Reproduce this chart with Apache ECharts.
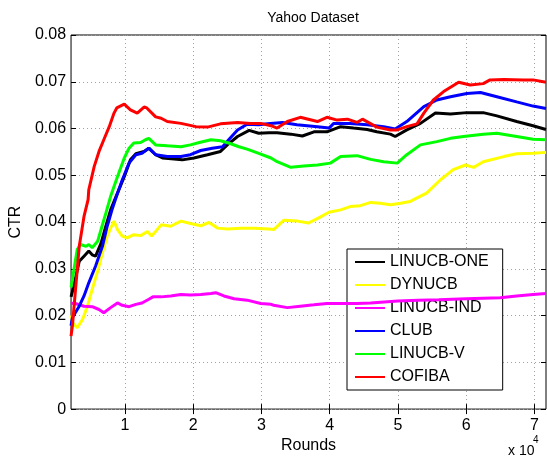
<!DOCTYPE html>
<html>
<head>
<meta charset="utf-8">
<script src="https://cdn.jsdelivr.net/npm/echarts@6/dist/echarts.min.js"></script>
<style>
  html, body { margin: 0; padding: 0; background: #fff; }
  #chart { width: 547px; height: 459px; }
</style>
</head>
<body>
<div id="chart"></div>
<script>
  // rounds, CTR
  const linucbOne = [
    [2100, 0.024], [2500, 0.0263], [3300, 0.0316], [4000, 0.0327], [4700, 0.0338], [5200, 0.033],
    [5700, 0.0327], [6500, 0.0355], [7200, 0.0391], [7900, 0.0426], [8900, 0.0462], [9900, 0.0497],
    [10800, 0.0533], [11600, 0.0546], [12800, 0.0551], [13500, 0.0558], [14500, 0.0544], [15500, 0.0537],
    [17200, 0.0535], [18400, 0.0533], [20100, 0.0537], [22100, 0.0544], [24000, 0.0551], [25000, 0.0565],
    [26500, 0.0583], [28200, 0.0596], [29600, 0.059], [31100, 0.0591], [32300, 0.0591], [34300, 0.0588],
    [36000, 0.0584], [37700, 0.0593], [39600, 0.0593], [41600, 0.0604], [43500, 0.0601], [45500, 0.0598],
    [46900, 0.0593], [48900, 0.0588], [49600, 0.0583], [51300, 0.0597], [53300, 0.0611], [55500, 0.0633],
    [57700, 0.0631], [60100, 0.0634], [62500, 0.0634], [64500, 0.0627], [67400, 0.0615], [69800, 0.0606],
    [71700, 0.0598]
  ];
  const dynucb = [
    [2100, 0.02], [2300, 0.0185], [3000, 0.0174], [3800, 0.0192], [4500, 0.022], [5200, 0.0256],
    [6000, 0.0295], [6700, 0.0334], [7400, 0.037], [7900, 0.0387], [8400, 0.0402], [8900, 0.0384],
    [9600, 0.037], [10300, 0.0366], [11300, 0.0373], [12300, 0.0371], [13300, 0.038], [13900, 0.037],
    [14500, 0.038], [15300, 0.0394], [16700, 0.0391], [18200, 0.0402], [19600, 0.0397], [21100, 0.0392],
    [22300, 0.0399], [23600, 0.0387], [25000, 0.0385], [27000, 0.0387], [28900, 0.0387], [31100, 0.0385],
    [31800, 0.0384], [33300, 0.0404], [35300, 0.0402], [36900, 0.0398], [38400, 0.0409], [39900, 0.0421],
    [41600, 0.0426], [43000, 0.0433], [44500, 0.0435], [46000, 0.0442], [47400, 0.044], [48900, 0.0437],
    [50400, 0.044], [51800, 0.0444], [52300, 0.0448], [54200, 0.0462], [56200, 0.049], [58100, 0.0512],
    [59900, 0.0522], [61100, 0.0517], [62500, 0.0529], [65500, 0.054], [67400, 0.0546], [69800, 0.0547],
    [71700, 0.0549]
  ];
  const linucbInd = [
    [2100, 0.0225], [2500, 0.0227], [4000, 0.022], [5200, 0.0219], [6200, 0.0213], [6900, 0.0206],
    [7900, 0.0217], [8900, 0.0227], [9600, 0.0222], [10600, 0.0219], [11600, 0.0224], [12500, 0.0227],
    [13500, 0.0235], [14100, 0.024], [15300, 0.024], [16700, 0.0242], [18200, 0.0245], [19600, 0.0244],
    [21100, 0.0245], [22600, 0.0247], [23300, 0.0249], [24500, 0.0242], [26000, 0.0236], [27900, 0.0233],
    [29900, 0.0226], [31400, 0.0224], [31800, 0.0222], [33800, 0.0217], [35700, 0.022], [37700, 0.0223],
    [39600, 0.0226], [42100, 0.0226], [44000, 0.0226], [46000, 0.0227], [48000, 0.0229], [50000, 0.0231],
    [53000, 0.0233], [56000, 0.0234], [60000, 0.0236], [65000, 0.0238], [67400, 0.0242], [69800, 0.0245],
    [71700, 0.0247]
  ];
  const club = [
    [2100, 0.0178], [2300, 0.0196], [3300, 0.022], [4000, 0.0242], [4700, 0.027], [5700, 0.0306],
    [6700, 0.0348], [7400, 0.0391], [8100, 0.0426], [8600, 0.0448], [9600, 0.049], [10600, 0.0526],
    [11600, 0.0544], [12500, 0.0547], [13500, 0.0558], [14500, 0.0544], [16200, 0.054], [18200, 0.054],
    [19600, 0.0544], [21100, 0.0553], [22800, 0.0558], [24300, 0.0561], [25200, 0.0576], [26500, 0.0597],
    [27900, 0.0609], [29600, 0.0608], [30900, 0.061], [33100, 0.0613], [35200, 0.0608], [38200, 0.0604],
    [39900, 0.0601], [40600, 0.0611], [43000, 0.0611], [45500, 0.0608], [47900, 0.0604], [49600, 0.0599],
    [51300, 0.0615], [53800, 0.0647], [55700, 0.0661], [57700, 0.0668], [60100, 0.0675], [62100, 0.0677],
    [64500, 0.0668], [67400, 0.0657], [69800, 0.0648], [71700, 0.0643]
  ];
  const linucbV = [
    [2100, 0.026], [3000, 0.0341], [3500, 0.0352], [4300, 0.0348], [4700, 0.0352], [5200, 0.0345],
    [6000, 0.0359], [6500, 0.0384], [7200, 0.0419], [7900, 0.0455], [8900, 0.0497], [9900, 0.0537],
    [10600, 0.0558], [11300, 0.0569], [12300, 0.057], [13000, 0.0576], [13500, 0.0579], [14500, 0.0565],
    [16200, 0.0563], [18200, 0.0561], [19600, 0.0565], [20900, 0.057], [22600, 0.0576], [24000, 0.0574],
    [25200, 0.0569], [26700, 0.0561], [27900, 0.0556], [29600, 0.0547], [31400, 0.0537], [32300, 0.0529],
    [34300, 0.0517], [36200, 0.052], [38200, 0.0522], [40100, 0.0526], [41600, 0.054], [44000, 0.0542],
    [46000, 0.0534], [47900, 0.0529], [49900, 0.0526], [51300, 0.0544], [53300, 0.0565], [55700, 0.0572],
    [57700, 0.0579], [59600, 0.0583], [62500, 0.0588], [64500, 0.059], [67400, 0.0583], [69800, 0.0577],
    [71700, 0.0576]
  ];
  const cofiba = [
    [2100, 0.0156], [2300, 0.0178], [3300, 0.0348], [4000, 0.0412], [4600, 0.0448], [4700, 0.0469],
    [5500, 0.0519], [6200, 0.0551], [6900, 0.0576], [7700, 0.0604], [8400, 0.0633], [8800, 0.0644],
    [9900, 0.0652], [10800, 0.064], [11800, 0.0633], [12800, 0.0646], [13200, 0.0644], [14500, 0.0625],
    [15300, 0.0622], [16200, 0.0615], [18200, 0.0611], [20400, 0.0604], [22100, 0.0603], [24000, 0.061],
    [26500, 0.0613], [28400, 0.0611], [29900, 0.0611], [31400, 0.0606], [32300, 0.0601], [33800, 0.0615],
    [35700, 0.0624], [38200, 0.0615], [39600, 0.0624], [41100, 0.0618], [42600, 0.062], [44000, 0.0613],
    [44800, 0.062], [46900, 0.0603], [48900, 0.0597], [49900, 0.0597], [51300, 0.0604], [52800, 0.061],
    [53800, 0.0633], [55200, 0.0661], [56700, 0.0679], [58900, 0.0699], [60600, 0.0693], [62500, 0.0696],
    [63500, 0.0704], [65500, 0.0705], [68400, 0.0704], [69800, 0.0704], [71700, 0.0699]
  ];

  const seriesNames = ['LINUCB-ONE', 'DYNUCB', 'LINUCB-IND', 'CLUB', 'LINUCB-V', 'COFIBA'];
  const seriesColors = ['#000000', '#ffff00', '#ff00ff', '#0000ff', '#00ff00', '#ff0000'];
  const seriesData = [linucbOne, dynucb, linucbInd, club, linucbV, cofiba];
  const xTicks = [10000, 20000, 30000, 40000, 50000, 60000, 70000];

  const font = 'Liberation Sans, Arial, Helvetica, sans-serif';
  const gridLine = { show: true, lineStyle: { color: '#a0a0a0', type: [1, 3], width: 1 } };

  const chart = echarts.init(document.getElementById('chart'));
  const option = {
    animation: false,
    backgroundColor: '#fff',
    title: {
      text: 'Yahoo Dataset',
      left: 308,
      top: 6,
      textAlign: 'center',
      textStyle: { fontFamily: font, fontSize: 14, fontWeight: 'normal', color: '#000' },
    },
    grid: {
      left: 70, top: 35, width: 476, height: 375,
      show: true, borderColor: '#000', borderWidth: 1,
    },
    legend: {
      orient: 'vertical',
      left: 347,
      top: 249,
      data: seriesNames,
      itemWidth: 30,
      itemHeight: 16,
      itemGap: 7,
      padding: [5, 14, 5, 7],
      backgroundColor: '#fff',
      borderColor: '#000',
      borderWidth: 1,
      borderRadius: 0,
      itemStyle: { opacity: 0 },
      lineStyle: { width: 2 },
      textStyle: { fontFamily: font, fontSize: 16, color: '#000' },
    },
    xAxis: [
      {
        type: 'value',
        min: 2100,
        max: 71700,
        name: 'Rounds',
        nameLocation: 'middle',
        nameGap: 23,
        nameTextStyle: { fontFamily: font, fontSize: 16, color: '#000' },
        axisLine: { show: false },
        axisTick: { inside: true, length: 5, customValues: xTicks, lineStyle: { color: '#000' } },
        axisLabel: {
          customValues: xTicks, margin: 8,
          fontFamily: font, fontSize: 16, color: '#000',
          formatter: (v) => String(Math.round(v / 10000)),
        },
        splitLine: gridLine,
      },
      {
        type: 'value',
        position: 'top',
        min: 2100,
        max: 71700,
        axisLine: { show: false },
        axisTick: { inside: true, length: 5, customValues: xTicks, lineStyle: { color: '#000' } },
        axisLabel: { show: false },
        splitLine: { show: false },
      },
    ],
    yAxis: [
      {
        type: 'value',
        min: 0,
        max: 0.08,
        interval: 0.01,
        name: 'CTR',
        nameLocation: 'middle',
        nameGap: 47,
        nameTextStyle: { fontFamily: font, fontSize: 16, color: '#000' },
        axisLine: { show: false },
        axisTick: { inside: true, length: 5, lineStyle: { color: '#000' } },
        axisLabel: {
          margin: 5, fontFamily: font, fontSize: 16, color: '#000',
          formatter: (v) => (v === 0 ? '0' : v.toFixed(2)),
        },
        splitLine: gridLine,
      },
      {
        type: 'value',
        position: 'right',
        min: 0,
        max: 0.08,
        interval: 0.01,
        axisLine: { show: false },
        axisTick: { inside: true, length: 5, lineStyle: { color: '#000' } },
        axisLabel: { show: false },
        splitLine: { show: false },
      },
    ],
    graphic: [
      { type: 'text', left: 508, top: 444, style: { text: 'x 10', fontFamily: font, fontSize: 14, fill: '#000' } },
      { type: 'text', left: 533, top: 435, style: { text: '4', fontFamily: font, fontSize: 10, fill: '#000' } },
    ],
    series: seriesNames.map((name, i) => ({
      name: name,
      type: 'line',
      data: seriesData[i],
      symbol: 'none',
      color: seriesColors[i],
      lineStyle: { color: seriesColors[i], width: 3 },
      z: 2 + i,
    })),
  };
  chart.setOption(option);
</script>
</body>
</html>
